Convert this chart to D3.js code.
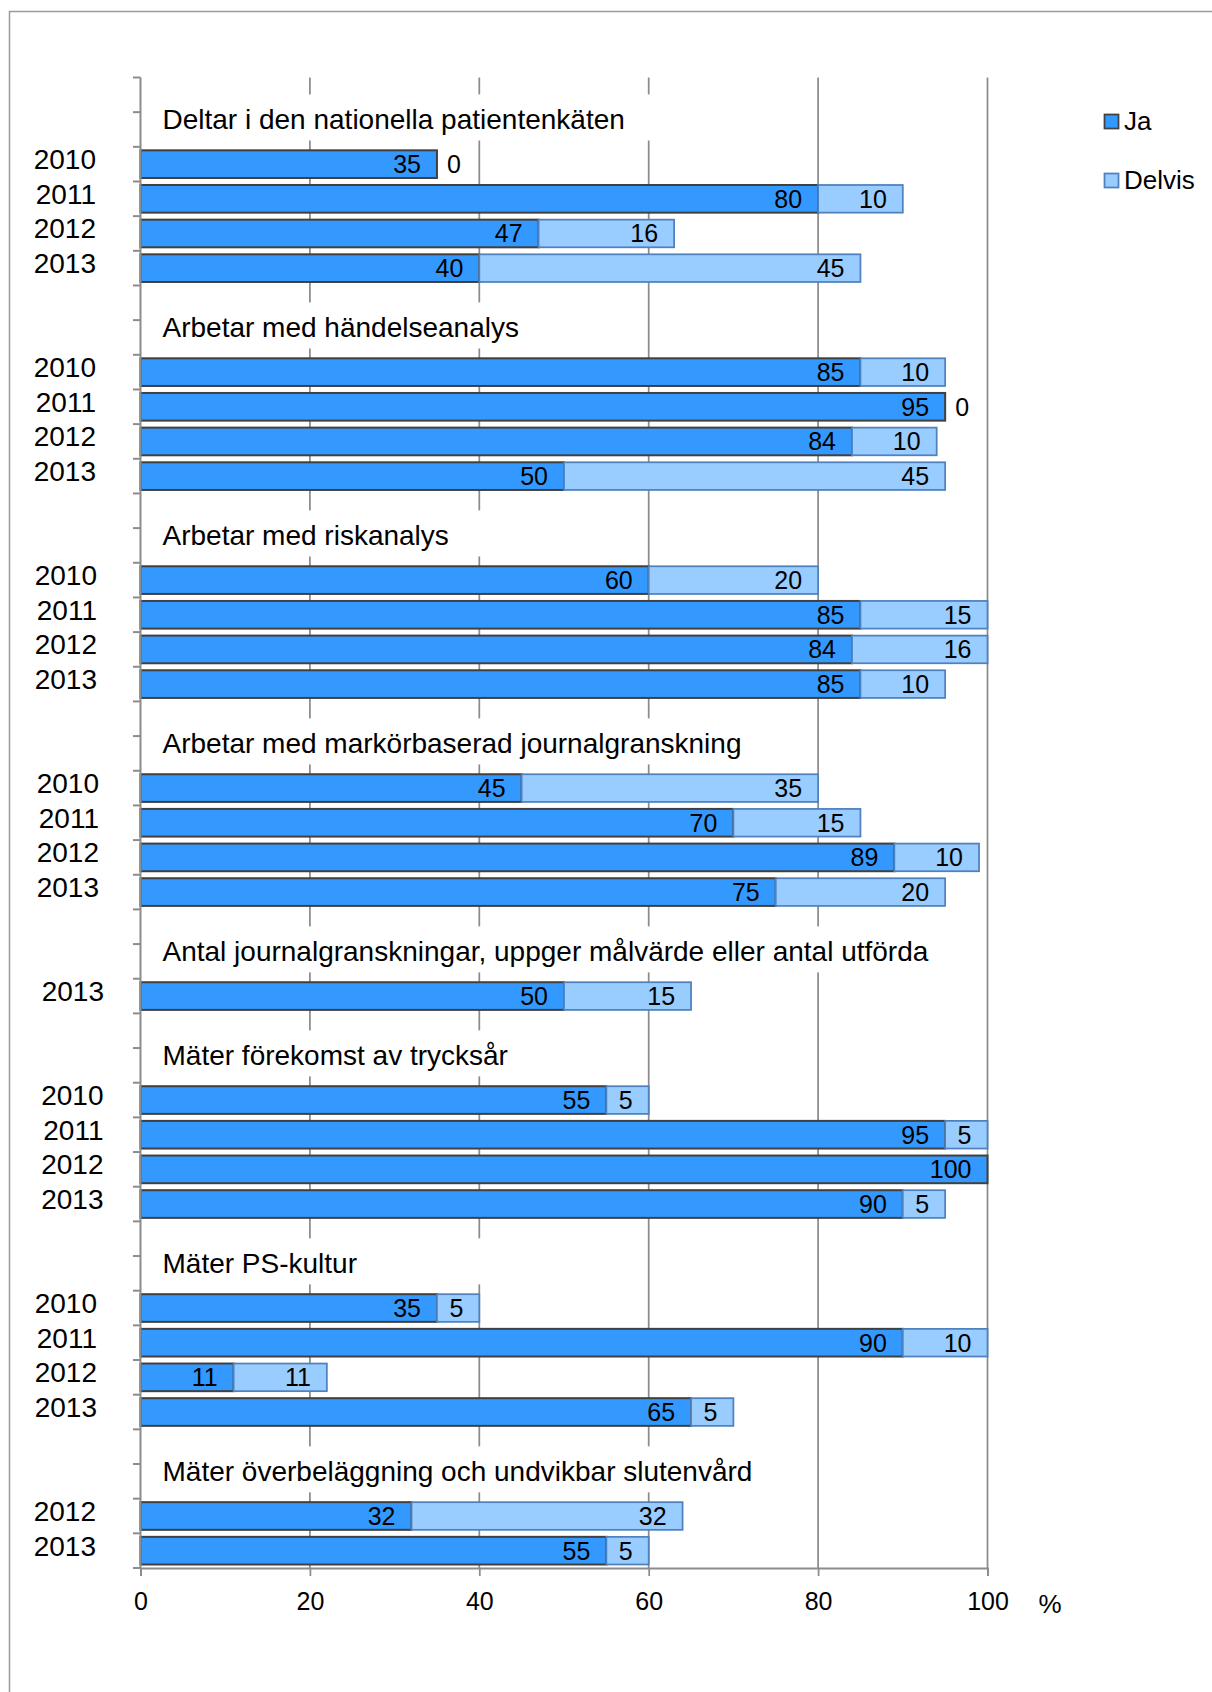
<!DOCTYPE html>
<html lang="sv">
<head>
<meta charset="utf-8">
<title>Patientsäkerhetsarbete 2010–2013</title>
<script src="https://cdn.jsdelivr.net/npm/d3@7"></script>
<style>
  html, body { margin: 0; padding: 0; background: #fff; }
  svg { display: block; }
  text { font-family: "Liberation Sans", Arial, Helvetica, sans-serif; fill: #000; }
</style>
</head>
<body>
<svg id="chart" width="1212" height="1692"></svg>
<script>
// ---- data ----
const groupTitles = [
  "Deltar i den nationella patientenkäten",
  "Arbetar med händelseanalys",
  "Arbetar med riskanalys",
  "Arbetar med markörbaserad journalgranskning",
  "Antal journalgranskningar, uppger målvärde eller antal utförda",
  "Mäter förekomst av trycksår",
  "Mäter PS-kultur",
  "Mäter överbeläggning och undvikbar slutenvård"
];
const groupYears = [
  ["2010", "2011", "2012", "2013"],
  ["2010", "2011", "2012", "2013"],
  ["2010", "2011", "2012", "2013"],
  ["2010", "2011", "2012", "2013"],
  ["2013"],
  ["2010", "2011", "2012", "2013"],
  ["2010", "2011", "2012", "2013"],
  ["2012", "2013"]
];
const jaValues = [
  [35, 80, 47, 40],
  [85, 95, 84, 50],
  [60, 85, 84, 85],
  [45, 70, 89, 75],
  [50],
  [55, 95, 100, 90],
  [35, 90, 11, 65],
  [32, 55]
];
const delvisValues = [
  [0, 10, 16, 45],
  [10, 0, 10, 45],
  [20, 15, 16, 10],
  [35, 15, 10, 20],
  [15],
  [5, 5, null, 5],
  [5, 10, 11, 5],
  [32, 5]
];
const seriesNames = ["Ja", "Delvis"];
const xTicks = [0, 20, 40, 60, 80, 100];
const unitLabel = "%";

// ---- layout ----
const W = 1212, H = 1692;
const plot = { left: 140.5, right: 987.5, top: 77.5, bottom: 1568 };
const yearLabelNudge = [0, 0, 1, 3, 8, 7.5, 1, 0];
const colors = {
  ja: "#3399ff", jaStroke: "#404040",
  delvis: "#99ccff", delvisStroke: "#4f81bd",
  grid: "#8c8c8c", axis: "#8c8c8c", frame: "#9a9a9a"
};

// one row for spacing, one for the heading, then one per year
const rows = [];
groupTitles.forEach((t, g) => {
  rows.push({ id: `b${g}`, kind: "blank", g });
  rows.push({ id: `t${g}`, kind: "title", g });
  groupYears[g].forEach((yr, k) => rows.push({ id: `r${g}-${k}`, kind: "bar", g, k, year: yr }));
});

const svg = d3.select("#chart");

const x = d3.scaleLinear().domain([0, 100]).range([plot.left, plot.right]);
const y = d3.scaleBand().domain(rows.map(r => r.id)).range([plot.top, plot.bottom]).padding(0);
const bw = y.bandwidth();

// outer frame
svg.append("rect")
  .attr("x", 9.5).attr("y", 11.5)
  .attr("width", W + 50).attr("height", H + 50)
  .attr("fill", "none").attr("stroke", colors.frame).attr("stroke-width", 1.5);

// vertical gridlines
svg.append("g").selectAll("line")
  .data(xTicks.filter(d => d > 0))
  .join("line")
  .attr("x1", d => x(d)).attr("x2", d => x(d))
  .attr("y1", plot.top).attr("y2", plot.bottom)
  .attr("stroke", colors.grid).attr("stroke-width", 1.75);

// group headings on white boxes
const titleRows = rows.filter(r => r.kind === "title");
const tg = svg.append("g");
titleRows.forEach(r => {
  const base = y(r.id) + bw / 2;
  const box = tg.append("rect").attr("fill", "#fff");
  const t = tg.append("text")
    .attr("x", x(0) + 22).attr("y", base)
    .attr("font-size", 28)
    .text(groupTitles[r.g]);
  const tw = t.node().getComputedTextLength();
  const end = Math.max(x(0) + 22 + tw + 30, 500);
  box.attr("x", x(0) + 1.5).attr("y", base - 35)
    .attr("width", end - x(0) - 1.5).attr("height", 46);
});

// bars
const barRows = rows.filter(r => r.kind === "bar");
const barY = r => y(r.id) + 3.5;
const barH = bw - 7;

svg.append("g").selectAll("rect")
  .data(barRows)
  .join("rect")
  .attr("x", x(0))
  .attr("y", barY)
  .attr("width", r => x(jaValues[r.g][r.k]) - x(0))
  .attr("height", barH)
  .attr("fill", colors.ja)
  .attr("stroke", colors.jaStroke).attr("stroke-width", 2);

const delvisRows = barRows.filter(r => delvisValues[r.g][r.k] !== null);
svg.append("g").selectAll("rect")
  .data(delvisRows.filter(r => delvisValues[r.g][r.k] > 0))
  .join("rect")
  .attr("x", r => x(jaValues[r.g][r.k]))
  .attr("y", barY)
  .attr("width", r => x(jaValues[r.g][r.k] + delvisValues[r.g][r.k]) - x(jaValues[r.g][r.k]))
  .attr("height", barH)
  .attr("fill", colors.delvis)
  .attr("stroke", colors.delvisStroke).attr("stroke-width", 1.75);

// value labels at the inside end of each segment
const labelBase = r => y(r.id) + bw / 2 + 9;
const lg = svg.append("g").attr("font-size", 25);
lg.selectAll("text.ja")
  .data(barRows)
  .join("text").attr("class", "ja")
  .attr("x", r => x(jaValues[r.g][r.k]) - 16)
  .attr("y", labelBase)
  .attr("text-anchor", "end")
  .text(r => jaValues[r.g][r.k]);
lg.selectAll("text.delvis")
  .data(delvisRows)
  .join("text").attr("class", "delvis")
  .attr("x", r => {
    const end = x(jaValues[r.g][r.k] + delvisValues[r.g][r.k]);
    return delvisValues[r.g][r.k] > 0 ? end - 16 : end + 10;
  })
  .attr("y", labelBase)
  .attr("text-anchor", r => delvisValues[r.g][r.k] > 0 ? "end" : "start")
  .text(r => delvisValues[r.g][r.k]);

// year labels
svg.append("g").attr("font-size", 28)
  .selectAll("text")
  .data(barRows)
  .join("text")
  .attr("x", r => 96 + yearLabelNudge[r.g])
  .attr("y", r => y(r.id) + bw / 2 - 5 + 10)
  .attr("text-anchor", "end")
  .text(r => r.year);

// category axis: line plus a tick at every row boundary
const bounds = rows.map(r => y(r.id)).concat([plot.bottom]);
const ya = svg.append("g");
ya.append("line")
  .attr("x1", x(0)).attr("x2", x(0))
  .attr("y1", plot.top).attr("y2", plot.bottom)
  .attr("stroke", colors.axis).attr("stroke-width", 2);
ya.selectAll("line.tick")
  .data(bounds)
  .join("line").attr("class", "tick")
  .attr("x1", x(0) - 7.5).attr("x2", x(0))
  .attr("y1", d => d).attr("y2", d => d)
  .attr("stroke", colors.axis).attr("stroke-width", 2);

// value axis
const xAxis = d3.axisBottom(x)
  .tickValues(xTicks)
  .tickSize(8)
  .tickPadding(16)
  .tickFormat(d3.format("d"));
const xa = svg.append("g")
  .attr("transform", `translate(0,${plot.bottom})`)
  .call(xAxis);
xa.select(".domain").attr("stroke", colors.axis).attr("stroke-width", 2);
xa.selectAll(".tick line").attr("stroke", colors.axis).attr("stroke-width", 1.75);
xa.selectAll(".tick text")
  .attr("font-size", 25)
  .attr("font-family", "\"Liberation Sans\", Arial, sans-serif")
  .attr("fill", "#000")
  .attr("dy", null)
  .attr("y", 42);

svg.append("text")
  .attr("x", 1050).attr("y", plot.bottom + 45)
  .attr("text-anchor", "middle")
  .attr("font-size", 26)
  .text(unitLabel);

// legend
const legend = svg.append("g").attr("font-size", 26);
const legendStyle = [
  { fill: colors.ja, stroke: colors.jaStroke, top: 114.5, base: 129.5 },
  { fill: colors.delvis, stroke: colors.delvisStroke, top: 173.5, base: 188.5 }
];
seriesNames.forEach((name, i) => {
  const s = legendStyle[i];
  legend.append("rect")
    .attr("x", 1104.5).attr("y", s.top)
    .attr("width", 14).attr("height", 14)
    .attr("fill", s.fill).attr("stroke", s.stroke).attr("stroke-width", 1.75);
  legend.append("text")
    .attr("x", 1124).attr("y", s.base)
    .text(name);
});
</script>
</body>
</html>
